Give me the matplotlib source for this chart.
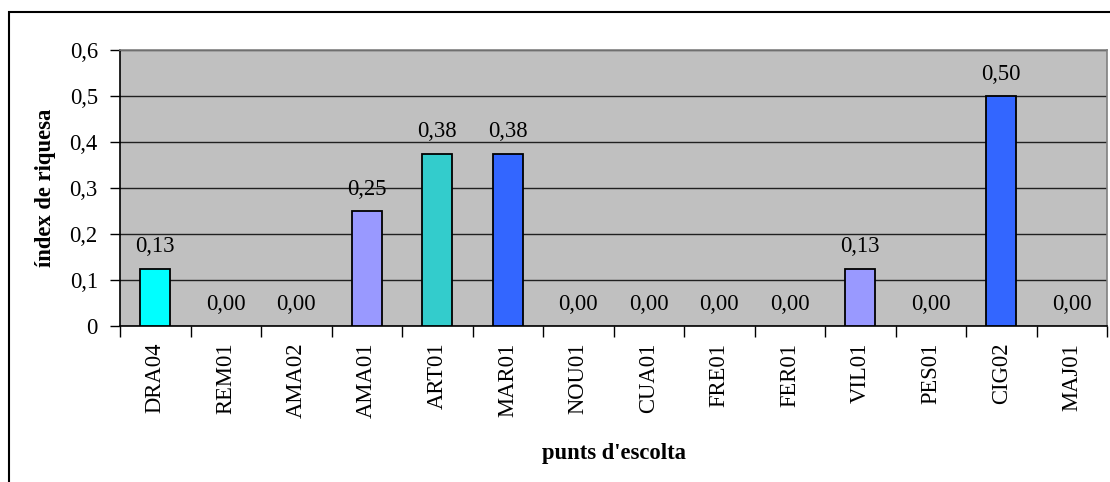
import matplotlib
matplotlib.use("Agg")
import matplotlib.pyplot as plt
import matplotlib.patches as mpatches
import numpy as np

categories = ["DRA04", "REM01", "AMA02", "AMA01", "ART01", "MAR01", "NOU01",
              "CUA01", "FRE01", "FER01", "VIL01", "PES01", "CIG02", "MAJ01"]
values = [0.125, 0.0, 0.0, 0.25, 0.375, 0.375, 0.0, 0.0, 0.0, 0.0, 0.125, 0.0, 0.5, 0.0]
labels = ["0,13", "0,00", "0,00", "0,25", "0,38", "0,38", "0,00", "0,00", "0,00",
          "0,00", "0,13", "0,00", "0,50", "0,00"]
colors = ["#00FFFF", "#9999FF", "#9999FF", "#9999FF", "#33CCCC", "#3366FF", "#3366FF",
          "#3366FF", "#3366FF", "#3366FF", "#9999FF", "#3366FF", "#3366FF", "#3366FF"]
yticks = [0, 0.1, 0.2, 0.3, 0.4, 0.5, 0.6]
yticklabels = ["0", "0,1", "0,2", "0,3", "0,4", "0,5", "0,6"]

plt.rcParams['font.family'] = ['Liberation Serif', 'DejaVu Serif']
FS = 16.3

fig = plt.figure(figsize=(11.10, 4.82), dpi=100)
ax = fig.add_axes([120/1110, 1-326/482, (1107-120)/1110, (326-50)/482])
ax.set_facecolor("#C0C0C0")

x = np.arange(len(categories))
lws = [1.3 if v > 0 else 0 for v in values]
ax.bar(x, values, width=0.43, color=colors, edgecolor="black", linewidth=lws, zorder=3)
for xi, v, lab in zip(x, values, labels):
    ax.annotate(lab, (xi, v), xytext=(0, 8), textcoords="offset points",
                ha="center", va="bottom", fontsize=FS)

ax.set_xlim(-0.5, len(categories) - 0.5)
ax.set_ylim(0, 0.6)
ax.set_yticks(yticks)
ax.set_yticklabels(yticklabels, fontsize=FS)
ax.yaxis.grid(True, color="#202020", linewidth=1.0, zorder=1)
ax.set_axisbelow(True)

ax.set_xticks(np.arange(-0.5, len(categories), 1.0))
ax.set_xticklabels([])
ax.set_xticks(x, minor=True)
ax.set_xticklabels(categories, minor=True, rotation=90, fontsize=FS)
ax.tick_params(axis="x", which="major", length=8, width=1, direction="out")
ax.tick_params(axis="x", which="minor", length=0, pad=12)
ax.tick_params(axis="y", length=7, width=1, pad=9)

for s in ["top", "right"]:
    ax.spines[s].set_color("#808080")
    ax.spines[s].set_linewidth(1.2)
for s in ["left", "bottom"]:
    ax.spines[s].set_color("black")
    ax.spines[s].set_linewidth(1.2)

ax.set_ylabel("índex de riquesa", fontsize=FS, fontweight="bold", labelpad=10)
ax.set_xlabel("punts d'escolta", fontsize=FS, fontweight="bold", labelpad=18)

border = mpatches.Rectangle((9/1110, -0.2), 1.5, (482-12)/482 + 0.2,
                            transform=fig.transFigure, fill=False,
                            edgecolor="black", linewidth=1.5)
fig.patches.append(border)

fig.savefig("out.png", dpi=100)
